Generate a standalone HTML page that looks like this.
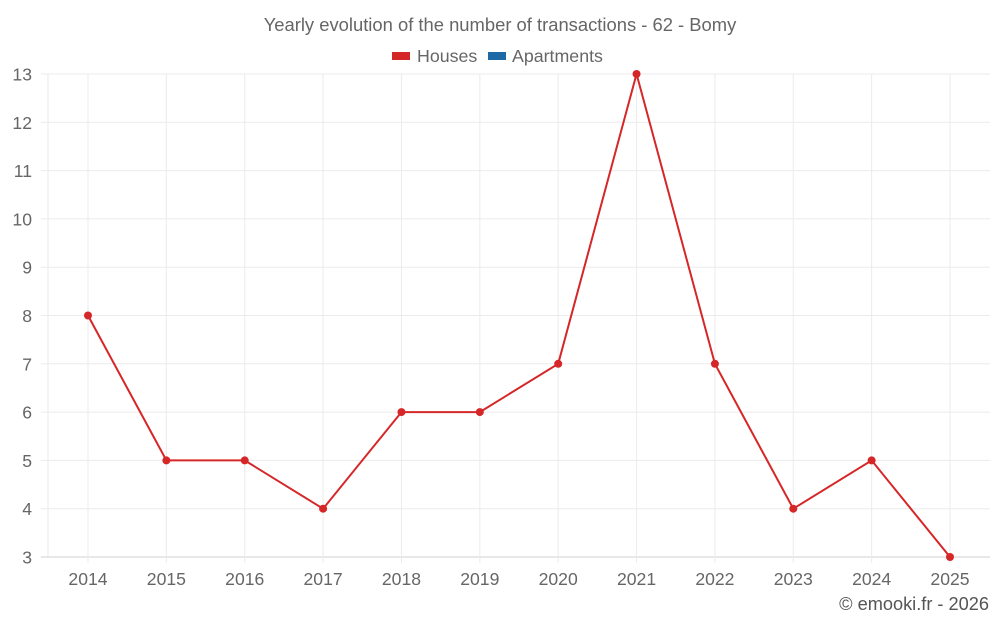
<!DOCTYPE html>
<html><head><meta charset="utf-8"><style>
body{margin:0;background:#fff;}
svg{display:block;font-family:"Liberation Sans",sans-serif;}
</style></head><body>
<svg id="chart" width="1000" height="625">
<text x="500" y="31" text-anchor="middle" font-size="18.4" fill="#666">Yearly evolution of the number of transactions - 62 - Bomy</text>
<g>
<g><rect x="392" y="52" width="18" height="8" fill="#d62728"/><text x="417" y="62" font-size="17.8" fill="#666">Houses</text></g>
<g><rect x="488" y="52" width="18" height="8" fill="#1f6aa5"/><text x="512" y="62" font-size="17.8" fill="#666">Apartments</text></g>
</g>
<g id="grid"></g><g id="axes"></g><g id="series"></g>
<text x="989" y="610" text-anchor="end" font-size="18.2" fill="#555">© emooki.fr - 2026</text>
</svg>
<script>
const years=["2014","2015","2016","2017","2018","2019","2020","2021","2022","2023","2024","2025"];
const houses=[8,5,5,4,6,6,7,13,7,4,5,3];
const yTicks=[3,4,5,6,7,8,9,10,11,12,13];
const NS="http://www.w3.org/2000/svg";
const L=48,R=990,T=74,B=557,yMin=3,yMax=13,pad=40;
const x=i=>L+pad+i*(R-L-2*pad)/(years.length-1);
const y=v=>B-(v-yMin)/(yMax-yMin)*(B-T);
function mk(tag,attrs,parent){const e=document.createElementNS(NS,tag);for(const k in attrs)e.setAttribute(k,attrs[k]);parent.appendChild(e);return e;}
const grid=document.getElementById('grid'),axes=document.getElementById('axes'),series=document.getElementById('series');
mk('line',{x1:L,x2:L,y1:T,y2:B,stroke:'#e8e8e8'},grid);
yTicks.forEach(v=>{
 const l=mk('line',{x1:41,x2:R,y1:y(v),y2:y(v),stroke:v===yMin?'#d0d0d0':'#ebebeb'},grid);
 
 
 const t=mk('text',{x:32,y:y(v)+6.5,'text-anchor':'end','font-size':17.6,fill:'#666'},axes);
 t.textContent=v;
 
 
});
years.forEach((yr,i)=>{
 const l=mk('line',{x1:x(i),x2:x(i),y1:T,y2:B+6,stroke:'#ebebeb'},grid);
 
 
 const t=mk('text',{x:x(i),y:585,'text-anchor':'middle','font-size':17.6,fill:'#666'},axes);
 t.textContent=yr;
 
 
});
const p=mk('polyline',{points:houses.map((v,i)=>x(i)+','+y(v)).join(' '),fill:'none',stroke:'#d62728','stroke-width':2},series);


houses.forEach((v,i)=>{
 const c=mk('circle',{cx:x(i),cy:y(v),r:4,fill:'#d62728'},series);
 
 
});
</script>
</body></html>
